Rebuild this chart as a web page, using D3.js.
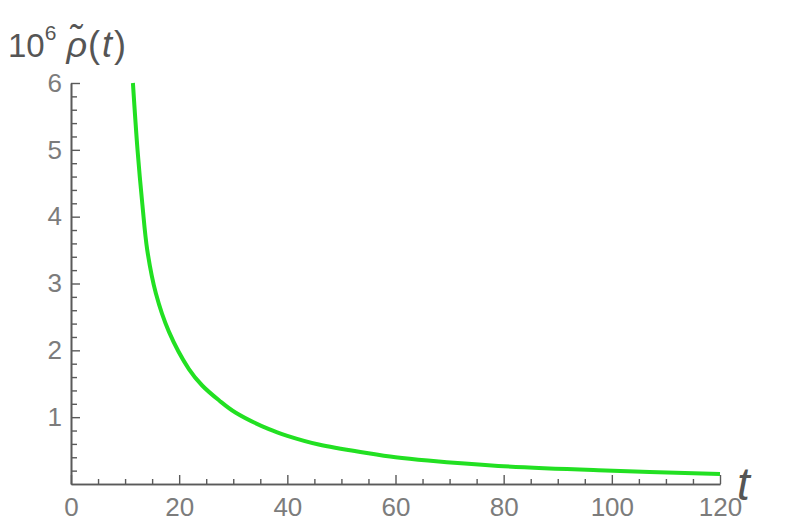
<!DOCTYPE html>
<html>
<head>
<meta charset="utf-8">
<script src="https://cdn.jsdelivr.net/npm/d3@7"></script>
<style>
  body { margin: 0; background: #fff; }
  svg { display: block; font-family: "Liberation Sans", Arial, sans-serif; }
</style>
</head>
<body>
<svg id="chart" width="785" height="528"></svg>
<script>
// values
const tValues = [11.45, 12.3, 13.2, 14.1, 15.7, 18.1, 21.8, 24.3, 27.4, 30.4, 36.6, 40, 45.8, 55, 60, 66, 79, 97.5, 120];
const rhoValues = [6.0, 5.0, 4.18, 3.5, 2.85, 2.28, 1.72, 1.47, 1.25, 1.07, 0.82, 0.72, 0.59, 0.46, 0.40, 0.35, 0.27, 0.205, 0.15];

const xMajorTicks = [0, 20, 40, 60, 80, 100, 120];
const yMajorTicks = [1, 2, 3, 4, 5, 6];

const axisColor = "#5a5a5a";
const labelColor = "#7c7c7c";

const svg = d3.select("#chart");

const x = d3.scaleLinear().domain([0, 120]).range([71, 720]);
const y = d3.scaleLinear().domain([0, 6]).range([484, 83]);

const xMinorTicks = d3.range(0, 120.01, 5).filter((d) => d % 20 !== 0);
const yMinorTicks = d3.range(0, 6.01, 0.2).filter((d) => Math.abs(d - Math.round(d)) > 0.01);

const styleAxis = (g) => {
  g.select(".domain").attr("stroke", axisColor).attr("stroke-width", 1.6);
  g.selectAll(".tick line").attr("stroke", axisColor).attr("stroke-width", 1.4);
  g.selectAll(".tick text")
    .attr("fill", labelColor)
    .style("font-size", "26px")
    .style("font-family", "'Liberation Sans', Arial, sans-serif");
};

// x axis, minor then major
svg.append("g")
  .attr("transform", `translate(0,${y(0)})`)
  .call(d3.axisBottom(x).tickValues(xMinorTicks).tickSize(-5).tickFormat("").tickSizeOuter(0))
  .call(styleAxis);

svg.append("g")
  .attr("transform", `translate(0,${y(0)})`)
  .call(d3.axisBottom(x).tickValues(xMajorTicks).tickSize(-9).tickPadding(14).tickFormat(d3.format("d")).tickSizeOuter(0))
  .call(styleAxis);

// y axis
svg.append("g")
  .attr("transform", `translate(${x(0)},0)`)
  .call(d3.axisLeft(y).tickValues(yMinorTicks).tickSize(-6).tickFormat("").tickSizeOuter(0))
  .call(styleAxis);

svg.append("g")
  .attr("transform", `translate(${x(0)},0)`)
  .call(d3.axisLeft(y).tickValues(yMajorTicks).tickSize(-9).tickPadding(9).tickFormat(d3.format("d")).tickSizeOuter(0))
  .call(styleAxis);

// curve
const points = tValues.map((t, i) => [t, rhoValues[i]]);
const line = d3.line()
  .x((d) => x(d[0]))
  .y((d) => y(d[1]))
  .curve(d3.curveCatmullRom.alpha(0.5));

svg.append("path")
  .datum(points)
  .attr("d", line)
  .attr("fill", "none")
  .attr("stroke", "#22e022")
  .attr("stroke-width", 4);

// y axis label: 10^6 rho~(t)
const yLabel = svg.append("text")
  .attr("x", 8)
  .attr("y", 57)
  .attr("fill", "#555")
  .style("font-size", "33px");
yLabel.append("tspan").text("10");
yLabel.append("tspan").attr("dy", -17).style("font-size", "21px").text("6");
yLabel.append("tspan").attr("dy", 17).attr("dx", 10).style("font-size", "36px").style("font-style", "italic").text("\u03C1\u0303");
yLabel.append("tspan").attr("dx", 1).style("font-size", "36px").text("(");
yLabel.append("tspan").attr("dx", 2).style("font-size", "36px").style("font-style", "italic").text("t");
yLabel.append("tspan").attr("dx", 2).style("font-size", "36px").text(")");

// x axis label
svg.append("text")
  .attr("x", 737)
  .attr("y", 500)
  .attr("fill", "#555")
  .style("font-size", "46px")
  .style("font-style", "italic")
  .text("t");
</script>
</body>
</html>
